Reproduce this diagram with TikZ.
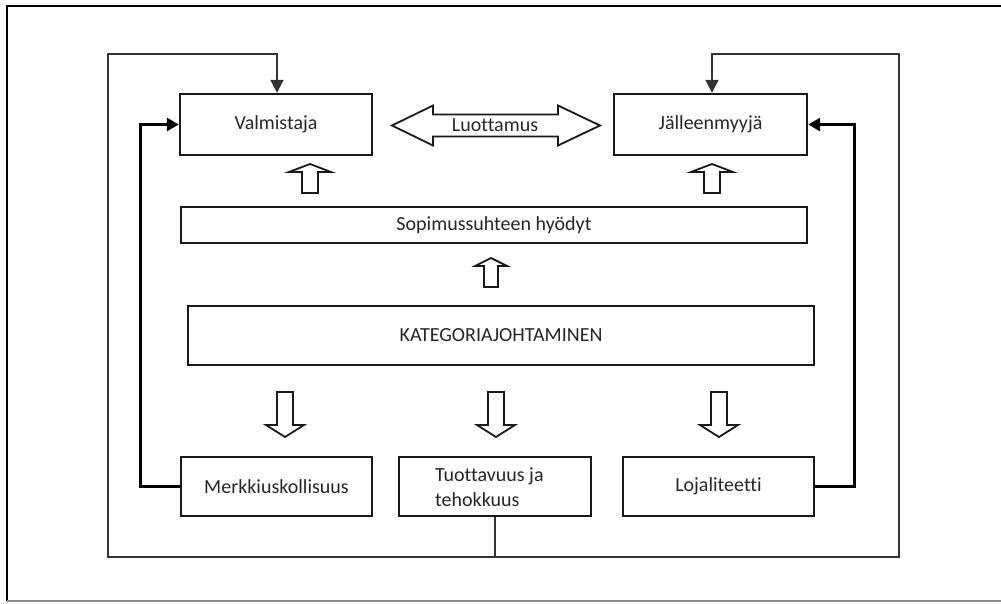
\documentclass[tikz,border=0pt]{standalone}
\usepackage{fontspec}
\setmainfont{Carlito}[Ligatures=NoCommon]
\usetikzlibrary{arrows.meta}
\begin{document}
\begin{tikzpicture}[x=1pt,y=-1pt,
  box/.style={draw=black!90, line width=2.4pt, fill=white, inner sep=0pt,
    font=\fontsize{20}{25}\selectfont, text=black!85},
  label/.style={font=\fontsize{20}{25}\selectfont, text=black!85, inner sep=0pt},
  loopline/.style={draw=black!80, line width=2pt, -{Triangle[length=13pt,width=13pt]}},
  feedback/.style={draw=black, line width=2.8pt, -{Triangle[length=12pt,width=13pt]}},
  hollow/.style={draw=black!90, line width=1.8pt, fill=white, line join=miter},
  pics/upbig/.style={code={
    \draw[hollow] (0,0) -- (21,8) -- (8,8) -- (8,29) -- (-8,29) -- (-8,8) -- (-21,8) -- cycle;}},
  pics/upmid/.style={code={
    \draw[hollow] (0,0) -- (16,8) -- (7,8) -- (7,29) -- (-7,29) -- (-7,8) -- (-16,8) -- cycle;}},
  pics/down/.style={code={
    \draw[hollow] (0,0) -- (19,-12) -- (8,-12) -- (8,-45) -- (-8,-45) -- (-8,-12) -- (-19,-12) -- cycle;}}
]
\useasboundingbox (0,0) rectangle (1001,603);

% page frame
\draw[line width=2.4pt] (1001,6) -- (7,6) -- (7,601);
\draw[black!45, line width=1.4pt] (7,601) -- (1001,601);

% boxes
\node[box, minimum width=192pt, minimum height=61pt] (valm) at (276,124.5) {Valmistaja};
\node[box, minimum width=193pt, minimum height=61pt] (jall) at (710.5,124.5) {Jälleenmyyjä};
\node[box, minimum width=626pt, minimum height=36pt] (sopi) at (494,225) {Sopimussuhteen hyödyt};
\node[box, minimum width=626pt, minimum height=59pt] (kate) at (501,335.5) {KATEGORIAJOHTAMINEN};
\node[box, minimum width=191pt, minimum height=59pt] (merk) at (276.5,486.5) {Merkkiuskollisuus};
\node[box, minimum width=192pt, minimum height=59pt] (tuot) at (495,486.5) {};
\node[label, align=left, anchor=west] (tuottxt) at (435,487) {Tuottavuus ja\\tehokkuus};
\node[box, minimum width=191pt, minimum height=59pt] (loja) at (718.5,486.5) {Lojaliteetti};

% trust between the partners
\node[label] (trust) at (495,125.5) {Luottamus};
\draw[hollow, fill=none] (392,125.5) -- (433,105.5) -- (433,114.5) -- (558,114.5) -- (558,105.5)
  -- (600,125.5) -- (558,145.5) -- (558,136.5) -- (433,136.5) -- (433,145.5) -- cycle;

% block arrows
\pic at (310,164) {upbig};
\pic at (712,164) {upbig};
\pic at (491,258) {upmid};
\pic at (285,437) {down};
\pic at (496,437) {down};
\pic at (719,437) {down};

% outer feedback loop
\coordinate (bl) at (108,557);
\coordinate (br) at (899,557);
\draw[loopline] (tuot.south) -- (tuot.south |- bl) -- (bl) -- (108,54) -| ([xshift=1pt]valm.north);
\draw[loopline] (tuot.south |- br) -- (br) -- (899,54) -| ([xshift=1.5pt]jall.north);

% side feedback
\draw[feedback] (merk.west) -- ++(-39,0) |- (valm.west);
\draw[feedback] (loja.east) -- ++(39,0) |- (jall.east);
\end{tikzpicture}
\end{document}
